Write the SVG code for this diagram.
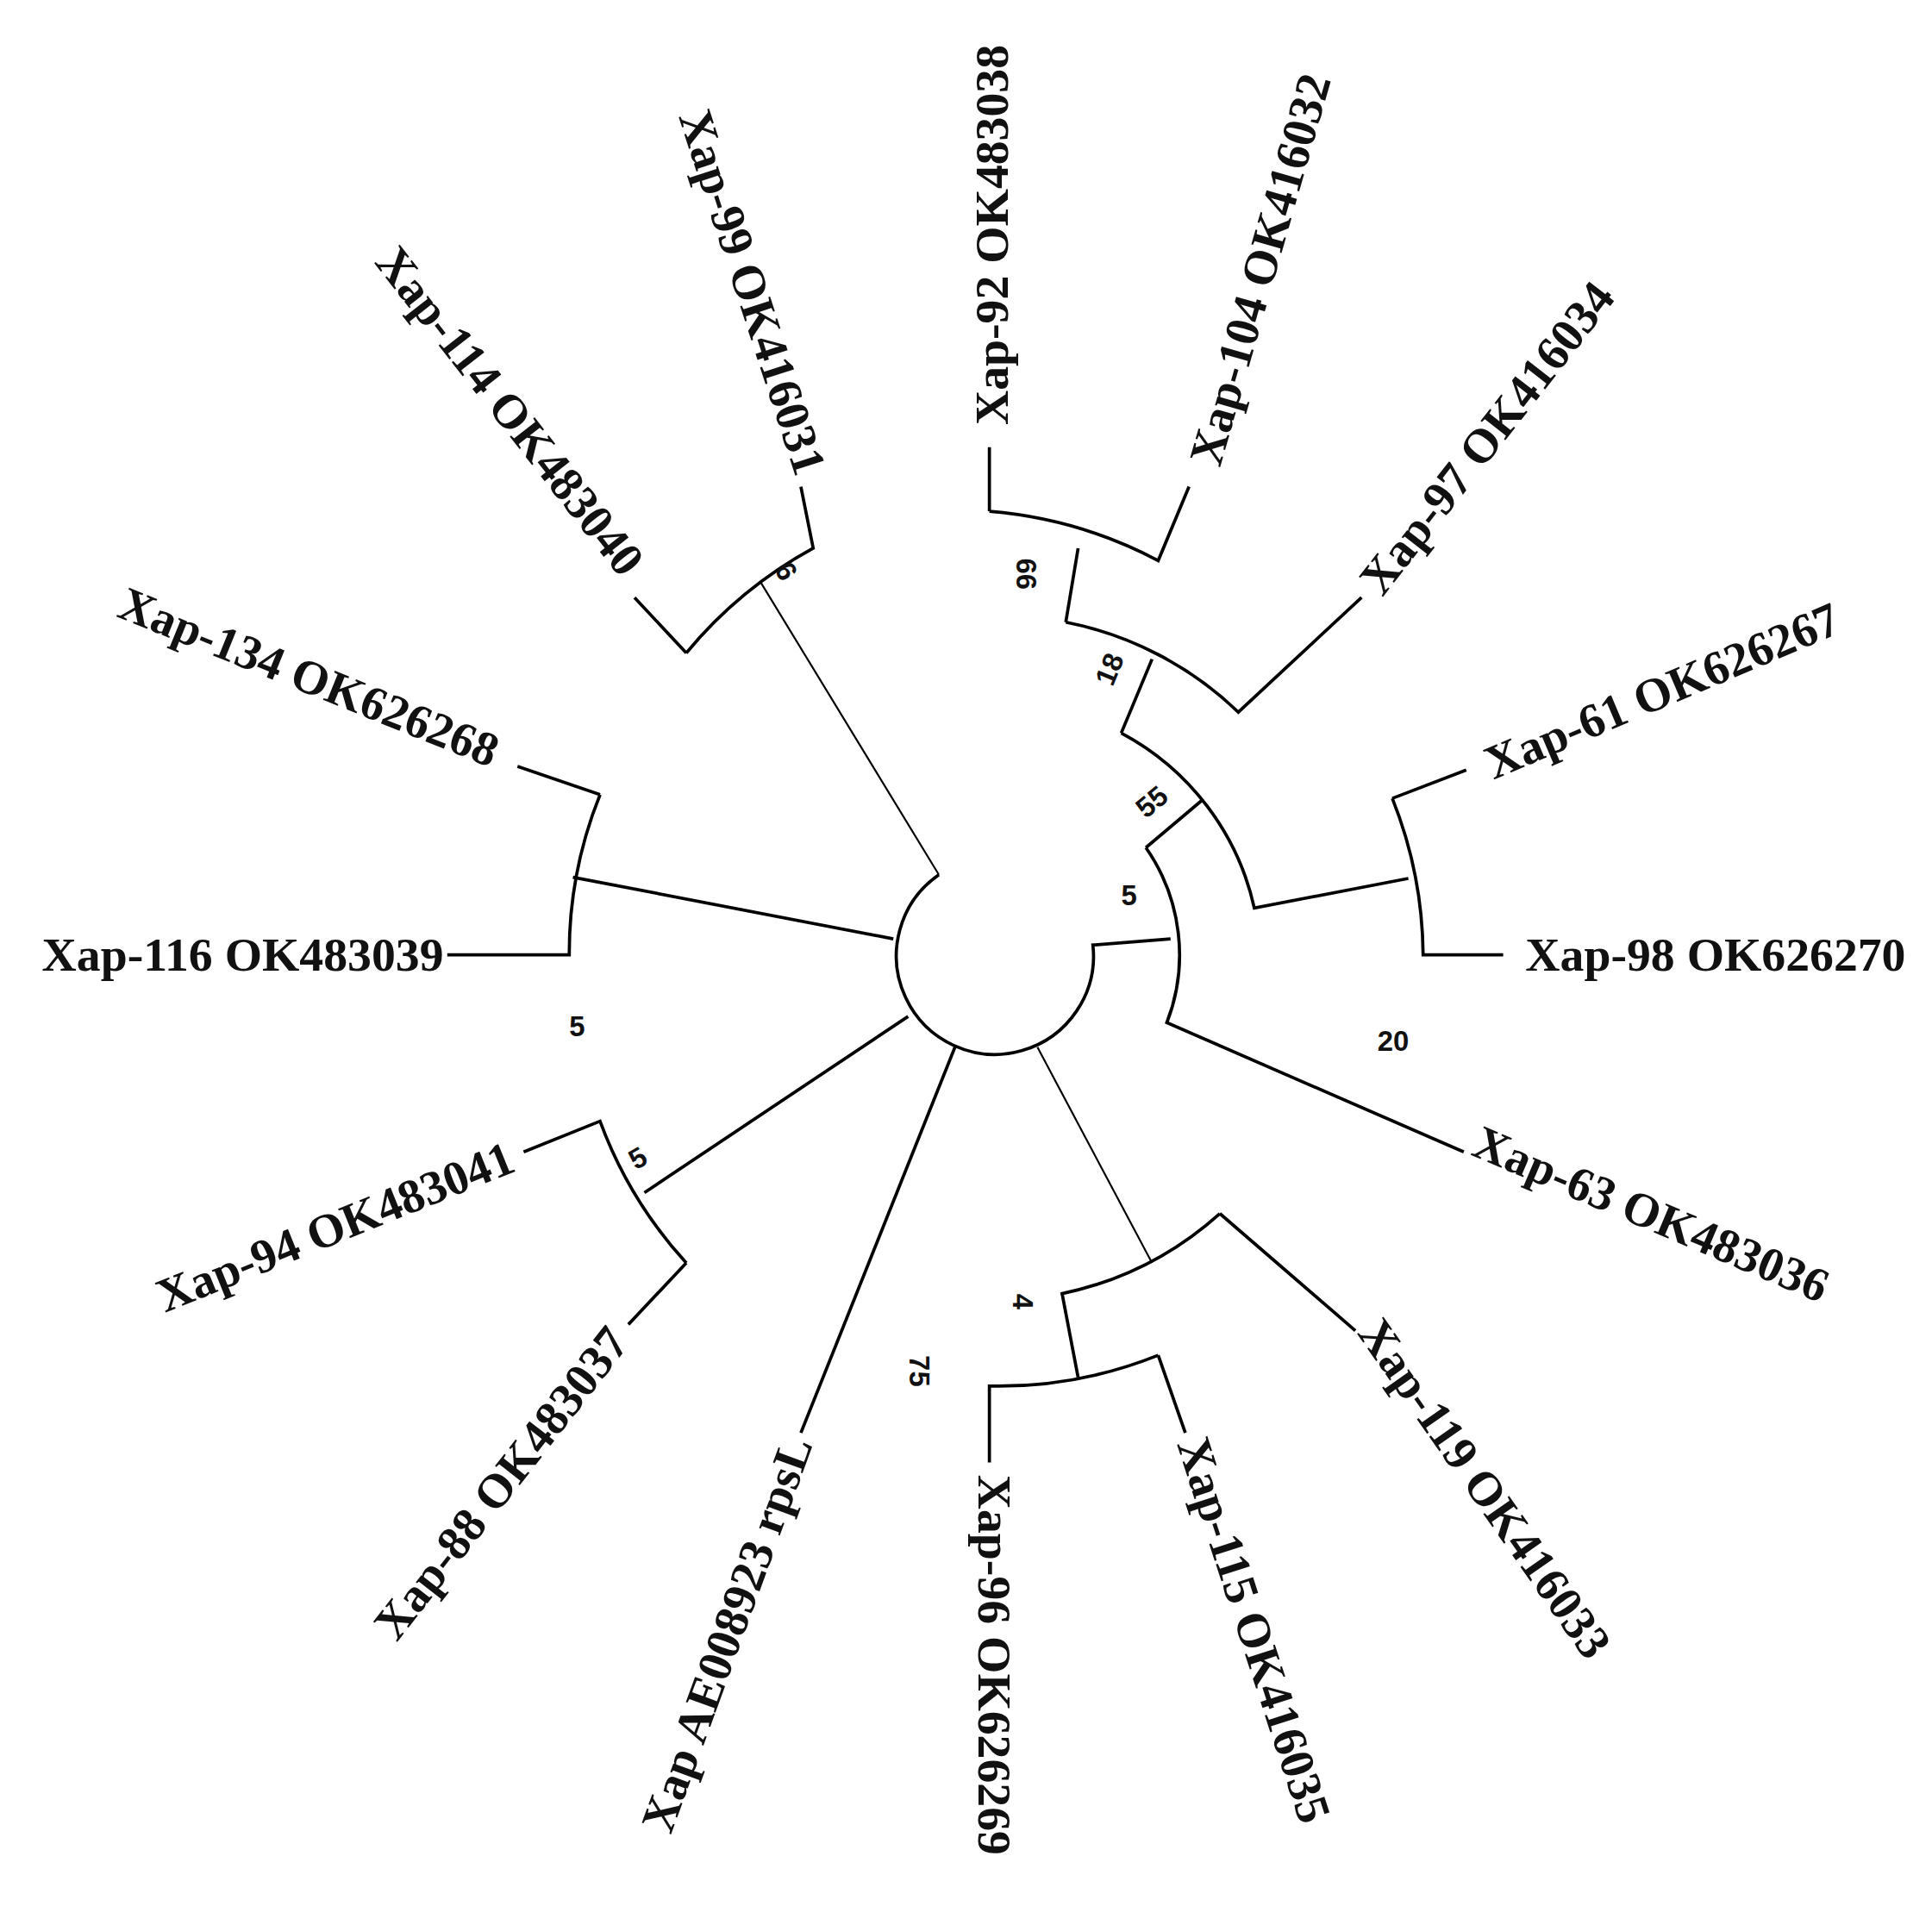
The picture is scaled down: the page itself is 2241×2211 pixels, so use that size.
<svg xmlns="http://www.w3.org/2000/svg" width="2241" height="2211" viewBox="0 0 2241 2211">
<style>
.b{fill:none;stroke:#000;stroke-width:2.6;stroke-linejoin:miter}
.t{fill:none;stroke:#000;stroke-width:1.5}
.l{font-family:"Liberation Serif",serif;font-weight:bold;font-size:39px;fill:#111}
.n{font-family:"Liberation Sans",Arial,sans-serif;font-weight:bold;font-size:23px;fill:#111}
</style>
<rect width="2241" height="2211" fill="#fff"/>
<g transform="scale(1.4292)">
<g id="connectors">
<path class="b" d="M762,710 A80,80 0 1 0 887,767 L950,762"/>
<path class="t" d="M762,710 L617,472"/>
<path class="b" d="M557,530 A355,355 0 0 1 660,445 L650,395 M557,530 L515,485"/>
<path class="b" d="M725,762 L465,712"/>
<path class="b" d="M487,645 A345,345 0 0 0 462,775 L363,775 M487,645 L420,622"/>
<path class="b" d="M737,825 L523,968"/>
<path class="b" d="M557,1025 A348,348 0 0 1 487,910 L425,935 M557,1025 L510,1075"/>
<path class="b" d="M775,850 L650,1163"/>
<path class="t" d="M842,850 L935,1025"/>
<path class="b" d="M990,985 A278,278 0 0 1 862,1050 L875,1118 M990,985 L1100,1080"/>
<path class="b" d="M940,1100 A349,349 0 0 1 803,1125 L803,1187 M940,1100 L962,1163"/>
<path class="b" d="M930,688 A152,152 0 0 1 947,830 L1188,935"/>
<path class="b" d="M930,688 L975,650"/>
<path class="b" d="M910,595 A213,213 0 0 1 1018,737 L1143,713"/>
<path class="b" d="M1130,648 A349,349 0 0 1 1155,775 L1220,775 M1130,648 L1190,625"/>
<path class="b" d="M910,595 L935,535"/>
<path class="b" d="M865,505 A280,280 0 0 1 1005,578 L1105,485"/>
<path class="b" d="M865,505 L875,445"/>
<path class="b" d="M803,415 A355,355 0 0 1 940,455 L965,395 M803,415 L803,363"/>
</g>
<g id="labels">
<text class="l" transform="translate(818,345) rotate(-90)">Xap-92 OK483038</text>
<text class="l" transform="translate(990,380) rotate(-74)">Xap-104 OK416032</text>
<text class="l" transform="translate(1122,485) rotate(-52)">Xap-97 OK416034</text>
<text class="l" transform="translate(1212,633) rotate(-23)">Xap-61 OK626267</text>
<text class="l" transform="translate(1238,788)">Xap-98 OK626270</text>
<text class="l" transform="translate(1193,937) rotate(23)">Xap-63 OK483036</text>
<text class="l" transform="translate(1101,1082) rotate(55)">Xap-119 OK416033</text>
<text class="l" transform="translate(955,1172) rotate(72)">Xap-115 OK416035</text>
<text class="l" transform="translate(794,1197) rotate(90)">Xap-96 OK626269</text>
<text class="l" text-anchor="end" transform="translate(660,1172) rotate(-70)">Xap AE008923 rpsL</text>
<text class="l" text-anchor="end" transform="translate(512,1090) rotate(-52)">Xap-88 OK483037</text>
<text class="l" text-anchor="end" transform="translate(420,950) rotate(-22)">Xap-94 OK483041</text>
<text class="l" text-anchor="end" transform="translate(360,788)">Xap-116 OK483039</text>
<text class="l" text-anchor="end" transform="translate(398,623) rotate(22)">Xap-134 OK626268</text>
<text class="l" text-anchor="end" transform="translate(504,470) rotate(52)">Xap-114 OK483040</text>
<text class="l" text-anchor="end" transform="translate(646,388) rotate(72)">Xap-99 OK416031</text>
</g>
<g id="bootstrap">
<text class="n" transform="translate(825,453) rotate(90)">66</text>
<text class="n" transform="translate(903,558) rotate(-68)">18</text>
<text class="n" transform="translate(930,665) rotate(-40)">55</text>
<text class="n" x="910" y="735">5</text>
<text class="n" x="1118" y="853">20</text>
<text class="n" transform="translate(822,1050) rotate(90)">4</text>
<text class="n" transform="translate(738,1100) rotate(90)">75</text>
<text class="n" transform="translate(516,950) rotate(-30)">5</text>
<text class="n" x="462" y="841">5</text>
<text class="n" transform="translate(628,462) rotate(60)">6</text>
</g>
</g>
</svg>
